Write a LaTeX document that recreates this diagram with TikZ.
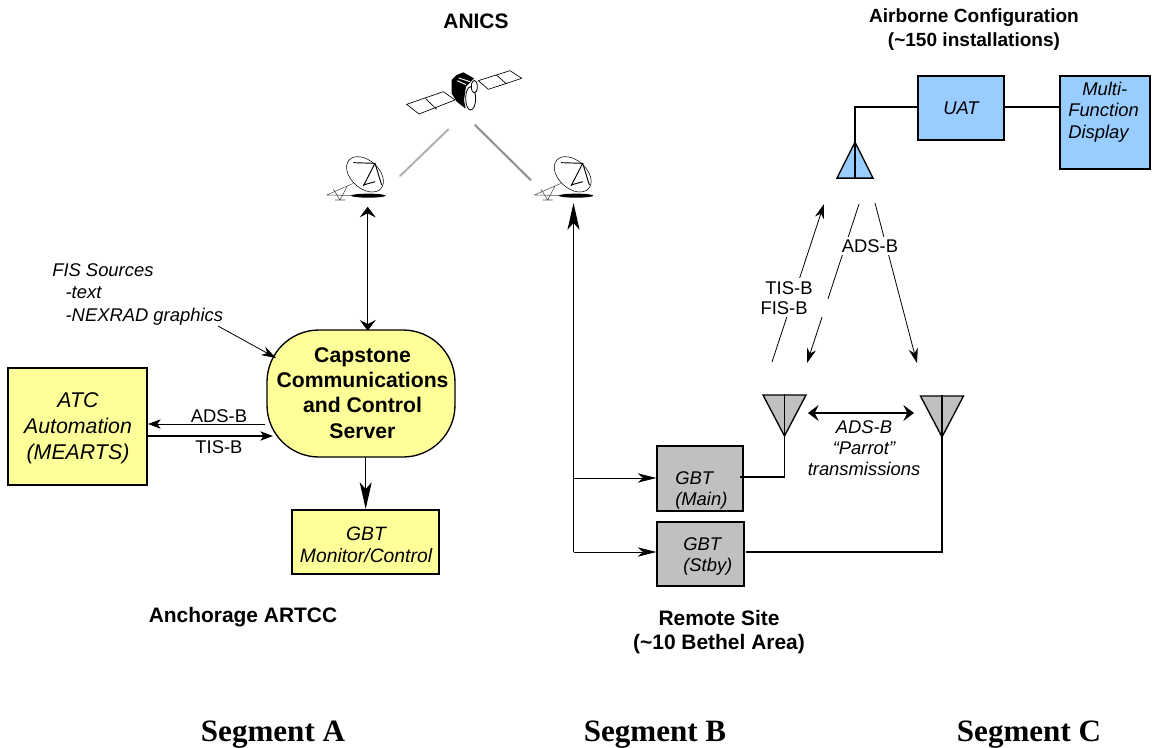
\documentclass[tikz,border=0pt]{standalone}
\usepackage{fontspec}
\setmainfont{Liberation Sans}
\newfontfamily\segfont{Liberation Serif}
\usetikzlibrary{arrows.meta, shapes.geometric}
\definecolor{boxyellow}{HTML}{FFFF99}
\definecolor{boxblue}{HTML}{99CCFF}
\definecolor{boxgray}{HTML}{C0C0C0}
\newcommand{\px}{0.75pt}
\tikzset{
x=\px, y=-\px, % one unit is one pixel of the layout
>={Stealth[length=9.5pt, width=7pt, inset=2.5pt]}, % default arrow head
headwide/.style={>={Stealth[length=8pt, width=12pt, inset=3pt]}},
headlong/.style={>={Stealth[length=20pt, width=9pt, inset=5pt]}},
headmid/.style={>={Stealth[length=14pt, width=7pt, inset=4pt]}},
headthin/.style={>={Stealth[length=11pt, width=7pt, inset=3.5pt]}},
every node/.style={font=\fontsize{13.8}{16}\selectfont, align=center, inner sep=0pt},
box/.style={draw, line width=1pt, sharp corners}, % common look of the boxes
heading/.style={font=\fontsize{15.7}{18.5}\selectfont\bfseries},
segment/.style={font=\fontsize{23.3}{26}\selectfont\segfont\bfseries},
note/.style={font=\fontsize{13.8}{16}\selectfont\itshape},
link/.style={line width=0.9pt},
thinlink/.style={line width=0.6pt},
antenna/.style={draw, line width=1pt, isosceles triangle, isosceles triangle apex angle=55, isosceles triangle stretches, shape border uses incircle, minimum width=43*\px, minimum height=41*\px},
dish/.pic={
  \begin{scope}[x=0.25pt, y=-0.25pt, line width=0.4pt]
    \draw[black!70] (20,435) -- (100,400) (20,435) -- (135,437) (60,450) -- (40,418) (60,450) -- (82,408) (45,450) -- (75,450);
    \draw[fill=white] (135,373) circle[x radius=64, y radius=42, rotate=-42];
    \draw[line width=0.7pt] (100,338) -- (165,340) -- (130,408) (165,340) -- (185,405) (130,405) -- (165,395);
    \fill (145,437) ellipse[x radius=52, y radius=6];
  \end{scope}
},
}
\begin{document}
\begin{tikzpicture}
  \useasboundingbox (0,0) rectangle (1154,747);
  % headings
  \node[heading] (anics) at (476,21) {ANICS};
  \node[heading, font=\fontsize{14.3}{18}\selectfont\bfseries] (airborne) at (974,29.5) {Airborne Configuration\\(\textasciitilde150 installations)};
  \node[heading] (artcc) at (243,617) {Anchorage ARTCC};
  \node[heading] (remote) at (719,632) {Remote Site\\(\textasciitilde10 Bethel Area)};
  \node[segment] (sega) at (273,735) {Segment A};
  \node[segment] (segb) at (655,735) {Segment B};
  \node[segment] (segc) at (1029,735) {Segment C};

  % segment A
  \node[box, fill=boxyellow, minimum width=139*\px, minimum height=117*\px] (atc) at (77.5,426.5) {};
  \node[font=\fontsize{16}{19.5}\selectfont\itshape] (atctext) at (78,428.5) {ATC\\Automation\\(MEARTS)};
  \node[box, fill=boxyellow, rounded corners=52*\px, minimum width=188*\px, minimum height=127*\px] (server) at (361,393.5) {};
  \node[font=\fontsize{15.9}{19}\selectfont\bfseries] (servertext) at (362.5,393) {Capstone\\Communications\\and Control\\Server};
  \node[box, fill=boxyellow, minimum width=147*\px, minimum height=64*\px] (monitor) at (365.5,542) {};
  \node[font=\fontsize{14.5}{16.5}\selectfont\itshape] (monitortext) at (366,545) {GBT\\Monitor/Control};
  \node[note, align=left, anchor=north west] (fis) at (52,263) {FIS Sources\\[1pt]\hspace{10pt}-text\\[1pt]\hspace{10pt}-NEXRAD graphics};

  % segment B
  \node[box, fill=boxgray, minimum width=86*\px, minimum height=65*\px] (main) at (700,478.5) {};
  \node[note, align=left, anchor=west] (maintext) at (675,490.5) {GBT\\(Main)};
  \node[box, fill=boxgray, minimum width=87*\px, minimum height=64*\px] (stby) at (700.5,554) {};
  \node[note, align=left, anchor=west] (stbytext) at (683,556.5) {GBT\\(Stby)};
  \node[antenna, fill=boxgray, shape border rotate=-90] (antmain) at (784.5,408) {};
  \node[antenna, fill=boxgray, shape border rotate=-90] (antstby) at (942,409) {};
  \node[note] (parrot) at (864,448) {ADS-B\\``Parrot''\\transmissions};

  % segment C
  \node[box, fill=boxblue, minimum width=86*\px, minimum height=64*\px, note] (uat) at (961,108) {UAT};
  \node[box, fill=boxblue, minimum width=90*\px, minimum height=93*\px] (mfd) at (1105,122.5) {};
  \node[note, align=left, anchor=north west] (mfdtext) at (1068,82) {\hspace{10.5pt}Multi-\\Function\\Display};
  \node[antenna, fill=boxblue, shape border rotate=90, minimum width=36*\px, minimum height=36*\px] (antair) at (855,167) {};

  % satellite and beams
  \begin{scope}[shift={(320,50)}, x=0.25pt, y=-0.25pt, line width=0.4pt]
    \draw[line width=0.5pt] (260,163) -- (370,125) -- (405,150) -- (297,192) -- cycle (317,146) -- (350,178);
    \draw[line width=0.5pt] (475,92) -- (570,62) -- (605,85) -- (505,118) -- cycle (530,76) -- (560,102);
    \fill (395,90) -- (410,75) -- (430,67) -- (462,85) -- (438,110) -- (432,150) -- (437,176) -- (410,155) -- (395,130) -- cycle;
    \draw[white, line width=0.7pt] (416,84) -- (450,95) (412,92) -- (438,104);
    \draw[fill=white, line width=0.6pt] (452,145) ellipse[x radius=15, y radius=35];
    \draw[fill=white, line width=0.6pt] (463,110) ellipse[x radius=9, y radius=19];
    \foreach \w/\o in {9/0.08, 6/0.12, 3/0.2} {
      \draw[line cap=round, line width=\w*0.25pt, black, opacity=\o] (240,378) -- (385,238);
      \draw[line cap=round, line width=\w*0.25pt, black, opacity=1.5*\o] (465,225) -- (632,390);
    }
  \end{scope}
  \pic (dishA) at (320,50) {dish};
  \pic (dishB) at (527.7,50) {dish};

  % named free ends
  \coordinate (dishAfoot) at (367.7,206.7);
  \coordinate (serverTop) at (367.7,330.7);
  \coordinate (dishBfoot) at (573.5,203);
  \coordinate (branch) at (573.5,478);
  \coordinate (corner) at (573.5,552);
  \coordinate (atcIn) at (148,424);
  \coordinate (serverOut) at (265,424);
  \coordinate (atcOut) at (147,436);
  \coordinate (serverIn) at (273,436);
  \coordinate (fisEnd) at (218,326);
  \coordinate (fisTip) at (276,358);
  \coordinate (serverFoot) at (365.7,457);
  \coordinate (monitorTop) at (365.7,509);
  \coordinate (tisFoot) at (772,362);
  \coordinate (tisTip) at (824,204);
  \coordinate (adsTopA) at (859,204);
  \coordinate (adsTipA) at (807,363);
  \coordinate (adsTopB) at (875,203);
  \coordinate (adsTipB) at (917,363);
  \coordinate (parrotL) at (808,413);
  \coordinate (parrotR) at (914,413);
  \coordinate (mainOut) at (740,477);
  \coordinate (mainBend) at (784.5,477);
  \coordinate (stbyOut) at (746,552);
  \coordinate (stbyBend) at (942,552);
  \coordinate (airBend) at (855,107);
  \coordinate (uatIn) at (918,107);
  \coordinate (uatOut) at (1004,107);
  \coordinate (mfdIn) at (1060,107);

  \draw[link, headwide, <->] (dishAfoot) -- (serverTop);
  \draw[thinlink, ->] (serverOut) -- (atcIn);
  \draw[link, ->] (atcOut) -- (serverIn);
  \draw[thinlink, headthin, ->] (fisEnd) -- (fisTip);
  \draw[link, headlong, ->] (serverFoot) -- (monitorTop);
  \draw[link, headlong, ->] (corner) -- (dishBfoot);
  \draw[thinlink, headmid, ->] (branch) -- (main.west |- branch);
  \draw[thinlink, headmid, ->] (corner) -- (stby.west |- corner);
  \draw[link] (mainOut) -- (mainBend) -- (antmain.apex);
  \draw[link] (stbyOut) -- (stbyBend) -- (antstby.apex);
  \draw[link] (antmain.apex) -- (antmain.lower side);
  \draw[link] (antstby.apex) -- (antstby.lower side);
  \draw[link] (antair.apex) -- (antair.lower side);
  \draw[line width=1.2pt, headwide, <->] (parrotL) -- (parrotR);
  \draw[link] (antair.apex) -- (airBend) -- (uatIn);
  \draw[link] (uatOut) -- (mfdIn);
  \draw[thinlink, headthin, ->] (tisFoot) -- (tisTip);
  \draw[thinlink, headthin, ->] (adsTopA) -- (adsTipA);
  \draw[thinlink, headthin, ->] (adsTopB) -- (adsTipB);

  % connector labels
  \node (adsa) at (219,416) {ADS-B};
  \node (tisa) at (219,447) {TIS-B};
  \node[fill=white, inner xsep=1pt, inner ysep=1.5pt] (adsc) at (870,246) {ADS-B};
  \node[fill=white, inner xsep=1pt, inner ysep=3pt] (tisc) at (789,288.5) {TIS-B};
  \node[fill=white, inner xsep=1pt, inner ysep=1.5pt, anchor=west] (fisc) at (759,308) {FIS-B\hspace{15pt}};
\end{tikzpicture}
\end{document}
